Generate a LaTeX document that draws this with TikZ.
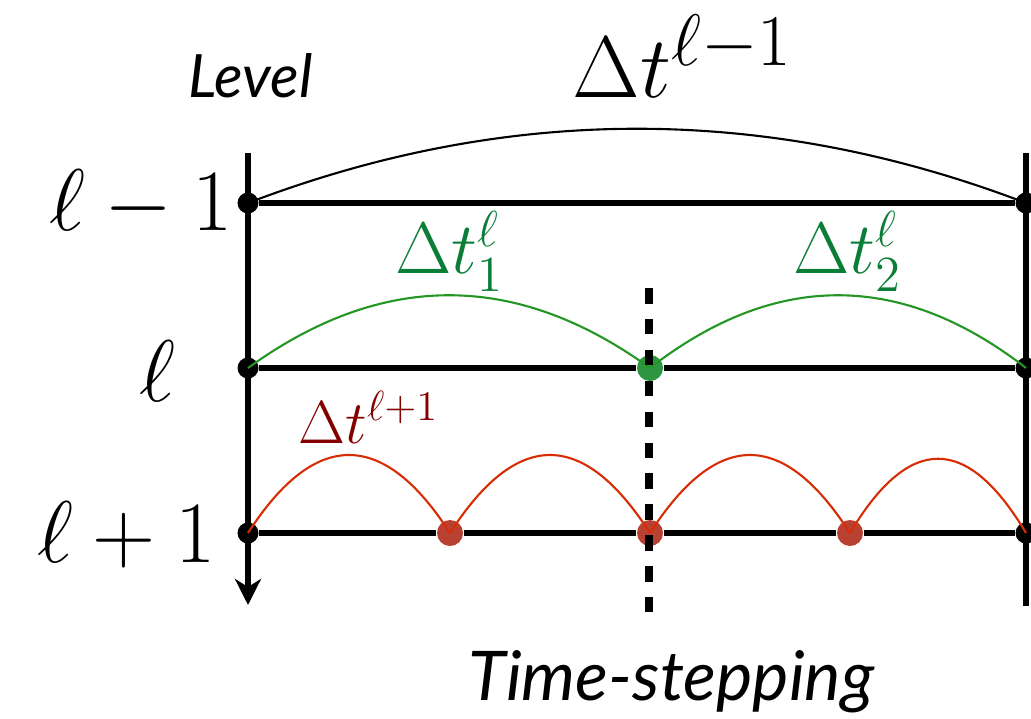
\documentclass[tikz,border=0pt]{standalone}
\usepackage{amsmath}
\usepackage{fontspec}
\newfontfamily\levelfont{Lato}
\usetikzlibrary{positioning, arrows.meta, calc}

\definecolor{lblgreen}{RGB}{10,125,55}
\definecolor{arcgreen}{RGB}{35,150,35}
\definecolor{dotgreen}{RGB}{45,150,65}
\definecolor{arcred}{RGB}{215,45,5}
\definecolor{dotred}{RGB}{185,65,50}
\definecolor{lblred}{RGB}{130,0,0}

\begin{document}
\begin{tikzpicture}[
  >={Stealth[length=2.6mm, width=2.6mm, inset=0.8mm]},
  every node/.style={inner sep=0pt},
  axis/.style    = {line width=1.45pt},
  lvlline/.style = {line width=1.45pt},
  bdot/.style    = {circle, fill=black, minimum size=0.21cm},
  gdot/.style    = {circle, fill=dotgreen, minimum size=0.26cm},
  rdot/.style    = {circle, fill=dotred, minimum size=0.26cm},
  bigarc/.style  = {line width=0.6pt},
  grnarc/.style  = {line width=0.6pt, arcgreen},
  redarc/.style  = {line width=0.6pt, arcred},
  split/.style   = {line width=2pt, dash pattern=on 0.155cm off 0.154cm},
  lvlmath/.style = {font=\fontsize{28}{34}\selectfont},
  bigmath/.style = {font=\fontsize{29}{35}\selectfont},
  steplbl/.style = {font=\fontsize{20}{24}\selectfont, lblgreen},
  finelbl/.style = {font=\fontsize{18}{22}\selectfont, lblred},
  caption/.style = {font=\levelfont\itshape\fontsize{17}{20}\selectfont},
]
  \useasboundingbox (0,0) rectangle (10.31,7.18);

  % axes
  \coordinate (ltop) at (2.48,5.65);
  \coordinate (lbot) at (2.48,1.13);
  \coordinate (rtop) at (10.26,5.65);
  \coordinate (rbot) at (10.26,1.12);
  \draw[axis,->] (ltop) -- (lbot);
  \draw[axis] (rtop) -- (rbot);

  % points on the levels
  \node[bdot] (a0) at (2.48,5.15) {};
  \node[bdot] (a4) at (10.26,5.15) {};
  \node[bdot] (b0) at (2.48,3.50) {};
  \node[gdot] (b2) at (6.50,3.50) {};
  \node[bdot] (b4) at (10.26,3.50) {};
  \node[bdot] (c0) at (2.48,1.85) {};
  \foreach \i/\x in {1/4.50,2/6.50,3/8.50}
    \node[rdot] (c\i) at (\x,1.85) {};
  \node[bdot] (c4) at (10.26,1.85) {};

  \draw[lvlline] (a0) -- (a4);
  \draw[lvlline] (b0) -- (b2) -- (b4);
  \foreach \a/\b in {c0/c1,c1/c2,c2/c3,c3/c4}\draw[lvlline](\a)--(\b);

  % time steps
  \draw[bigarc] (a0.center) .. controls +(2.59,0.99) and +(-2.59,0.99) .. (a4.center);
  \draw[grnarc] (b0.center) .. controls +(1.34,0.97) and +(-1.34,0.97) .. (b2.center);
  \draw[grnarc] (b2.center) .. controls +(1.25,0.97) and +(-1.25,0.97) .. (b4.center);
  \foreach \a/\b/\d/\h in {c0/c1/0.67/1.04,c1/c2/0.67/1.04,c2/c3/0.67/1.04,c3/c4/0.59/0.99}
    \draw[redarc] (\a.center) .. controls +(\d,\h) and +(-\d,\h) .. (\b.center);

  \coordinate (dtop) at (6.49,4.30);
  \coordinate (dbot) at (6.49,1.06);
  \draw[split] (dtop) -- (dbot);

  % labels
  \node[caption, anchor=base west] (lvl) at (1.88,6.21) {Level};
  \node[caption, font=\levelfont\itshape\fontsize{19.5}{23}\selectfont, anchor=base west] (ts) at (4.68,0.18) {Time-stepping};
  \node[lvlmath, anchor=base east] (lm) at (2.33,4.88) {$\ell-1$};
  \node[lvlmath, anchor=base east] (l) at (1.76,3.17) {$\ell$};
  \node[lvlmath, anchor=base east] (lp) at (2.16,1.56) {$\ell+1$};
  \node[bigmath, anchor=base west] (dtc) at (5.72,6.21) {$\Delta t^{\ell-1}$};
  \node[steplbl, anchor=base west] (dt1) at (3.95,4.45) {$\Delta t^{\ell}_{1}$};
  \node[steplbl, anchor=base west] (dt2) at (7.93,4.45) {$\Delta t^{\ell}_{2}$};
  \node[finelbl, anchor=base west] (dtf) at (2.98,2.75) {$\Delta t^{\ell+1}$};
\end{tikzpicture}
\end{document}
